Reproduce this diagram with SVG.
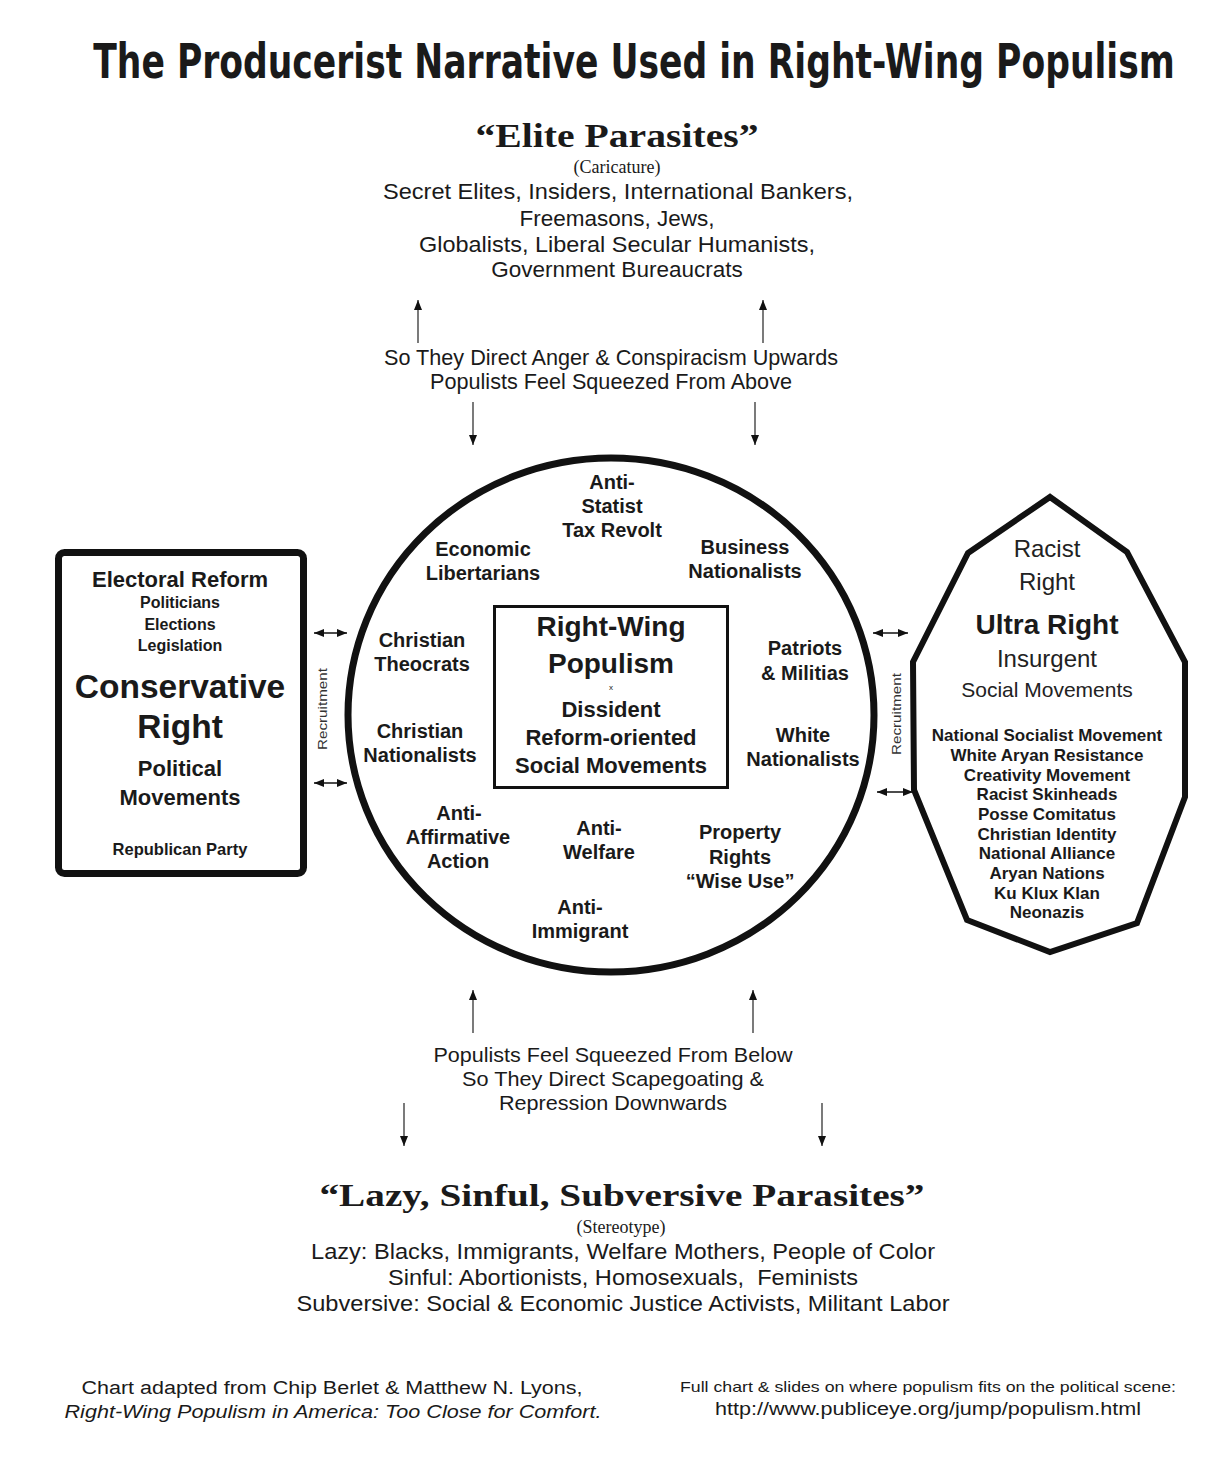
<svg xmlns="http://www.w3.org/2000/svg" width="1213" height="1461" viewBox="0 0 1213 1461">
<defs>
<style>
text{fill:#1a1a1a;font-family:"Liberation Sans",Arial,sans-serif;text-anchor:middle}
.b{font-weight:bold}
.serif{font-family:"Liberation Serif","Times New Roman",serif}
.lbl{font-size:20px;font-weight:bold}
.lst{font-size:17px;font-weight:bold}
.lt{fill:#222;font-weight:normal}
.rec{font-size:13px;fill:#333}
.conn line{stroke:#333;stroke-width:1.3}
.dbl line{stroke:#111;stroke-width:1.6}
</style>
<marker id="ah" viewBox="0 0 10 8" refX="10" refY="4" markerWidth="10" markerHeight="8" markerUnits="userSpaceOnUse" orient="auto-start-reverse">
<path d="M0,0 L10,4 L0,8 z" fill="#111"/>
</marker>
</defs>
<rect width="1213" height="1461" fill="#fff"/>

<g id="title">
<text transform="translate(634,78) scale(0.8,1)" x="0" y="0" font-weight="bold" font-size="48" textLength="1352" lengthAdjust="spacingAndGlyphs" style="font-family:'DejaVu Sans Condensed','Liberation Sans',sans-serif">The Producerist Narrative Used in Right-Wing Populism</text>
</g>

<g id="elite-parasites">
<text class="serif b" x="617" y="147" font-size="33" textLength="283" lengthAdjust="spacingAndGlyphs">“Elite Parasites”</text>
<text class="serif" x="617" y="173" font-size="18">(Caricature)</text>
<text x="618" y="199" font-size="22.5" textLength="470" lengthAdjust="spacingAndGlyphs">Secret Elites, Insiders, International Bankers,</text>
<text x="617" y="226" font-size="22.5">Freemasons, Jews,</text>
<text x="617" y="252" font-size="22.5" textLength="396" lengthAdjust="spacingAndGlyphs">Globalists, Liberal Secular Humanists,</text>
<text x="617" y="277" font-size="22.5">Government Bureaucrats</text>
</g>

<g id="above-label">
<text x="611" y="365" font-size="21.5" textLength="454" lengthAdjust="spacingAndGlyphs">So They Direct Anger &amp; Conspiracism Upwards</text>
<text x="611" y="389" font-size="21.5" textLength="362" lengthAdjust="spacingAndGlyphs">Populists Feel Squeezed From Above</text>
</g>

<g id="conservative-right">
<rect x="58.5" y="552.5" width="245" height="321" rx="6" fill="#fff" stroke="#111" stroke-width="7"/>
<text class="b" x="180" y="587" font-size="22">Electoral Reform</text>
<text class="b" x="180" y="608" font-size="16">Politicians</text>
<text class="b" x="180" y="630" font-size="16">Elections</text>
<text class="b" x="180" y="651" font-size="16">Legislation</text>
<text class="b" x="180" y="698" font-size="33.5">Conservative</text>
<text class="b" x="180" y="738" font-size="33.5">Right</text>
<text class="b" x="180" y="776" font-size="22">Political</text>
<text class="b" x="180" y="805" font-size="22">Movements</text>
<text class="b" x="180" y="855" font-size="16.5">Republican Party</text>
</g>

<g id="populism-circle">
<ellipse cx="611" cy="715" rx="263" ry="257" fill="#fff" stroke="#111" stroke-width="7"/>
<text class="lbl" x="612" y="489">Anti-</text>
<text class="lbl" x="612" y="513">Statist</text>
<text class="lbl" x="612" y="537">Tax Revolt</text>
<text class="lbl" x="483" y="556">Economic</text>
<text class="lbl" x="483" y="580">Libertarians</text>
<text class="lbl" x="745" y="554">Business</text>
<text class="lbl" x="745" y="578">Nationalists</text>
<text class="lbl" x="422" y="647">Christian</text>
<text class="lbl" x="422" y="671">Theocrats</text>
<text class="lbl" x="420" y="738">Christian</text>
<text class="lbl" x="420" y="762">Nationalists</text>
<text class="lbl" x="805" y="655">Patriots</text>
<text class="lbl" x="805" y="680">&amp; Militias</text>
<text class="lbl" x="803" y="742">White</text>
<text class="lbl" x="803" y="766">Nationalists</text>
<text class="lbl" x="459" y="820">Anti-</text>
<text class="lbl" x="458" y="844">Affirmative</text>
<text class="lbl" x="458" y="868">Action</text>
<text class="lbl" x="599" y="835">Anti-</text>
<text class="lbl" x="599" y="859">Welfare</text>
<text class="lbl" x="740" y="839">Property</text>
<text class="lbl" x="740" y="864">Rights</text>
<text class="lbl" x="740" y="888">“Wise Use”</text>
<text class="lbl" x="580" y="914">Anti-</text>
<text class="lbl" x="580" y="938">Immigrant</text>
</g>

<g id="right-wing-populism">
<rect x="494.5" y="606.5" width="233" height="181" fill="#fff" stroke="#111" stroke-width="3"/>
<text class="b" x="611" y="636" font-size="28">Right-Wing</text>
<text class="b" x="611" y="673" font-size="28">Populism</text>
<text x="611" y="690" font-size="8">x</text>
<text class="b" x="611" y="717" font-size="22">Dissident</text>
<text class="b" x="611" y="745" font-size="22">Reform-oriented</text>
<text class="b" x="611" y="773" font-size="22">Social Movements</text>
</g>

<g id="ultra-right">
<polygon points="1050,497 1127,552 1185,662 1185,797 1137,923 1050,952 967,920 914,790 913,662 968,553" fill="#fff" stroke="#111" stroke-width="6" stroke-linejoin="miter"/>
<text class="lt" x="1047" y="557" font-size="24">Racist</text>
<text class="lt" x="1047" y="590" font-size="24">Right</text>
<text class="b" x="1047" y="634" font-size="28">Ultra Right</text>
<text class="lt" x="1047" y="667" font-size="24">Insurgent</text>
<text class="lt" x="1047" y="697" font-size="21">Social Movements</text>
<text class="lst" x="1047" y="741">National Socialist Movement</text>
<text class="lst" x="1047" y="761">White Aryan Resistance</text>
<text class="lst" x="1047" y="781">Creativity Movement</text>
<text class="lst" x="1047" y="800">Racist Skinheads</text>
<text class="lst" x="1047" y="820">Posse Comitatus</text>
<text class="lst" x="1047" y="840">Christian Identity</text>
<text class="lst" x="1047" y="859">National Alliance</text>
<text class="lst" x="1047" y="879">Aryan Nations</text>
<text class="lst" x="1047" y="899">Ku Klux Klan</text>
<text class="lst" x="1047" y="918">Neonazis</text>
</g>

<g id="recruitment-labels">
<text class="rec" transform="translate(327,709) rotate(-90)" textLength="82" lengthAdjust="spacingAndGlyphs">Recruitment</text>
<text class="rec" transform="translate(901,714) rotate(-90)" textLength="82" lengthAdjust="spacingAndGlyphs">Recruitment</text>
</g>

<g id="connectors">
<g class="conn">
<line x1="418" y1="343" x2="418" y2="300" marker-end="url(#ah)"/>
<line x1="763" y1="343" x2="763" y2="300" marker-end="url(#ah)"/>
<line x1="473" y1="402" x2="473" y2="445" marker-end="url(#ah)"/>
<line x1="755" y1="402" x2="755" y2="445" marker-end="url(#ah)"/>
<line x1="473" y1="1033" x2="473" y2="990" marker-end="url(#ah)"/>
<line x1="753" y1="1033" x2="753" y2="990" marker-end="url(#ah)"/>
<line x1="404" y1="1103" x2="404" y2="1146" marker-end="url(#ah)"/>
<line x1="822" y1="1103" x2="822" y2="1146" marker-end="url(#ah)"/>
</g>
<g class="dbl">
<line x1="314" y1="633" x2="347" y2="633" marker-start="url(#ah)" marker-end="url(#ah)"/>
<line x1="314" y1="783" x2="347" y2="783" marker-start="url(#ah)" marker-end="url(#ah)"/>
<line x1="873" y1="633" x2="908" y2="633" marker-start="url(#ah)" marker-end="url(#ah)"/>
<line x1="877" y1="792" x2="913" y2="792" marker-start="url(#ah)" marker-end="url(#ah)"/>
</g>
</g>

<g id="below-label">
<text x="613" y="1062" font-size="21" textLength="359" lengthAdjust="spacingAndGlyphs">Populists Feel Squeezed From Below</text>
<text x="613" y="1086" font-size="21" textLength="302" lengthAdjust="spacingAndGlyphs">So They Direct Scapegoating &amp;</text>
<text x="613" y="1110" font-size="21" textLength="228" lengthAdjust="spacingAndGlyphs">Repression Downwards</text>
</g>

<g id="lazy-parasites">
<text class="serif b" x="622" y="1206" font-size="31" textLength="605" lengthAdjust="spacingAndGlyphs">“Lazy, Sinful, Subversive Parasites”</text>
<text class="serif" x="621" y="1233" font-size="18">(Stereotype)</text>
<text x="623" y="1259" font-size="21.5" textLength="624" lengthAdjust="spacingAndGlyphs">Lazy: Blacks, Immigrants, Welfare Mothers, People of Color</text>
<text x="623" y="1285" font-size="21.5" textLength="470" lengthAdjust="spacingAndGlyphs" xml:space="preserve">Sinful: Abortionists, Homosexuals,  Feminists</text>
<text x="623" y="1311" font-size="21.5" textLength="653" lengthAdjust="spacingAndGlyphs">Subversive: Social &amp; Economic Justice Activists, Militant Labor</text>
</g>

<g id="footer">
<text x="332" y="1394" font-size="18" textLength="501" lengthAdjust="spacingAndGlyphs">Chart adapted from Chip Berlet &amp; Matthew N. Lyons,</text>
<text x="333" y="1418" font-size="18" font-style="italic" textLength="537" lengthAdjust="spacingAndGlyphs">Right-Wing Populism in America: Too Close for Comfort.</text>
<text x="928" y="1392" font-size="15" textLength="496" lengthAdjust="spacingAndGlyphs">Full chart &amp; slides on where populism fits on the political scene:</text>
<text x="928" y="1415" font-size="18" textLength="426" lengthAdjust="spacingAndGlyphs">http://www.publiceye.org/jump/populism.html</text>
</g>
</svg>
